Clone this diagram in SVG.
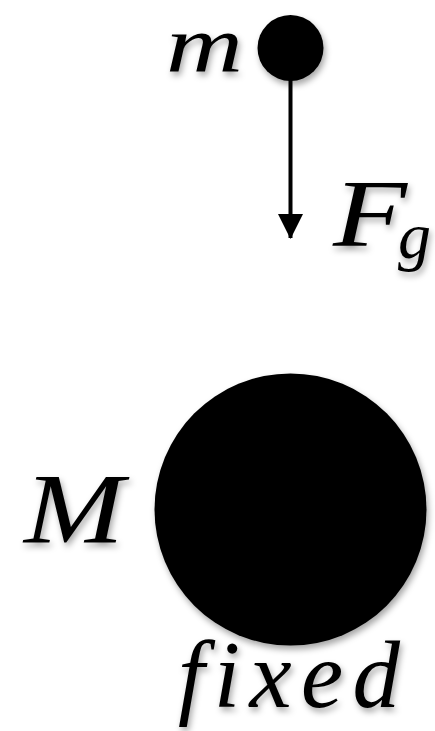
<svg xmlns="http://www.w3.org/2000/svg" width="435" height="731" viewBox="0 0 435 731">
<defs>
<filter id="sh" x="-20%" y="-20%" width="150%" height="150%">
<feDropShadow dx="2" dy="4" stdDeviation="3" flood-color="#000" flood-opacity="0.35"/>
</filter>
<marker id="arr" markerWidth="26" markerHeight="26" refX="24" refY="12.5" orient="auto" markerUnits="userSpaceOnUse">
<path d="M0,0 L25,12.5 L0,25 Z" fill="#000"/>
</marker>
</defs>
<style>
.lbl{font-family:"Liberation Serif","DejaVu Serif",serif;font-style:italic;font-weight:normal;fill:#000;filter:url(#sh)}
.body{fill:#000;filter:url(#sh)}
</style>
<rect width="435" height="731" fill="#fff"/>
<g id="connectors">
<line x1="290.5" y1="78" x2="290.5" y2="238" stroke="#000" stroke-width="4" marker-end="url(#arr)"/>
</g>
<g id="node-m">
<circle class="body" cx="290.5" cy="48" r="33"/>
<text class="lbl" x="166" y="71" font-size="80" textLength="77" lengthAdjust="spacingAndGlyphs">m</text>
</g>
<g id="node-M">
<circle class="body" cx="290.5" cy="509.5" r="136"/>
<text class="lbl" x="24" y="542" font-size="100" textLength="100" lengthAdjust="spacingAndGlyphs">M</text>
<text class="lbl" x="178" y="707" font-size="95" textLength="222" lengthAdjust="spacing">fixed</text>
</g>
<g id="label-Fg">
<text class="lbl" x="333" y="246" font-size="96" textLength="74" lengthAdjust="spacingAndGlyphs">F</text>
<text class="lbl" x="398" y="258" font-size="66">g</text>
</g>
</svg>
